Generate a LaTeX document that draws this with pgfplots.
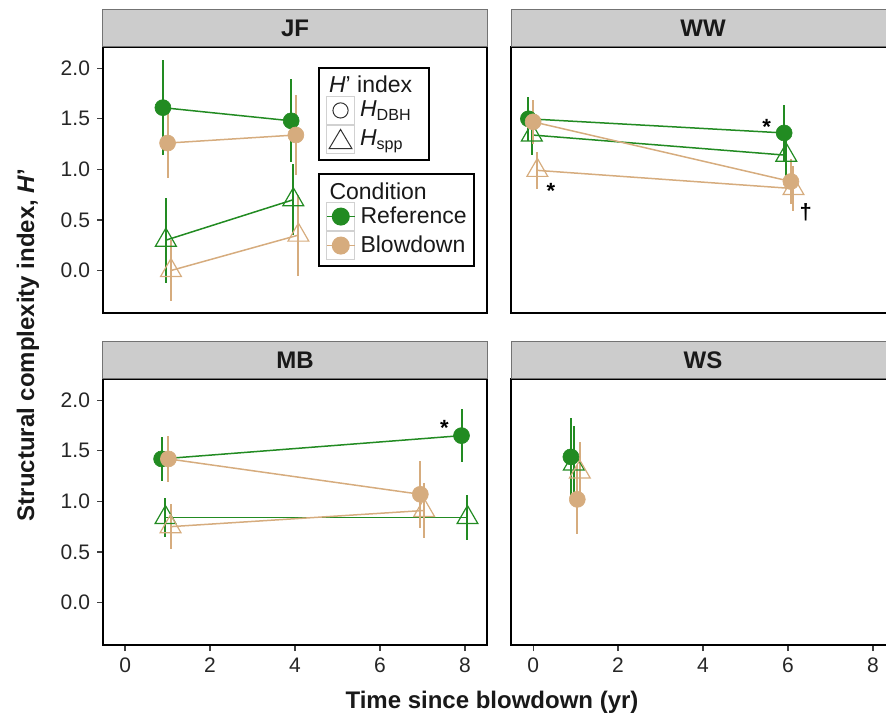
\documentclass[border=0pt]{standalone}
\usepackage{fontspec}
\setmainfont{Liberation Sans}
\usepackage{pgfplots}
\usepackage{pgfplotstable}
\pgfplotsset{compat=1.18}
\definecolor{gr}{RGB}{34,139,34}
\definecolor{tn}{RGB}{214,172,126}
\definecolor{stripgray}{RGB}{204,204,204}

% ---------- data: x, y, error ----------
\pgfplotstableread{
x y e
0.89 1.61 0.47
3.91 1.48 0.41
}\JFrd
\pgfplotstableread{
x y e
1.00 1.26 0.35
4.02 1.34 0.40
}\JFbd
\pgfplotstableread{
x y e
0.96 0.30 0.42
3.96 0.70 0.35
}\JFrs
\pgfplotstableread{
x y e
1.08 0.00 0.30
4.08 0.35 0.40
}\JFbs

\pgfplotstableread{
x y e
-0.11 1.50 0.22
5.91 1.36 0.28
}\WWrd
\pgfplotstableread{
x y e
0.00 1.47 0.22
6.07 0.88 0.22
}\WWbd
\pgfplotstableread{
x y e
-0.03 1.34 0.20
5.96 1.14 0.22
}\WWrs
\pgfplotstableread{
x y e
0.10 0.99 0.18
6.13 0.81 0.22
}\WWbs

\pgfplotstableread{
x y e
0.86 1.42 0.22
7.92 1.65 0.26
}\MBrd
\pgfplotstableread{
x y e
1.02 1.42 0.23
6.95 1.07 0.33
}\MBbd
\pgfplotstableread{
x y e
0.95 0.84 0.19
8.06 0.84 0.22
}\MBrs
\pgfplotstableread{
x y e
1.07 0.75 0.22
7.04 0.91 0.27
}\MBbs

\pgfplotstableread{
x y e
0.89 1.44 0.38
}\WSrd
\pgfplotstableread{
x y e
1.04 1.02 0.34
}\WSbd
\pgfplotstableread{
x y e
0.96 1.37 0.38
}\WSrs
\pgfplotstableread{
x y e
1.10 1.29 0.30
}\WSbs

\pgfplotsset{
  panel/.style={
    anchor=south west, scale only axis, width=192pt, height=133pt,
    xmin=-0.52, xmax=8.52, ymin=-0.42, ymax=2.21,
    axis line style={line width=1.1pt, black},
    tick align=outside, major tick length=3pt,
    tick style={black!75, line width=0.6pt},
    xtick={0,2,4,6,8}, ytick={0,0.5,1,1.5,2},
    xtick pos=lower, ytick pos=lower,
    yticklabel style={/pgf/number format/.cd, fixed, fixed zerofill, precision=1},
    ticklabel style={font=\fontsize{10.5}{12}\selectfont, text=black!85},
    /pgf/number format/assume math mode=true,
    every axis title shift=0pt,
    title style={at={(0.5,1)}, anchor=south, yshift=0pt, minimum width=192pt,
      minimum height=18.5pt, inner sep=0pt, fill=stripgray, draw=black!55,
      line width=0.5pt, font=\bfseries\fontsize{12}{14}\selectfont, text=black!90},
  },
  eb/.style={error bars/y dir=both, error bars/y explicit,
    error bars/error mark=none,
    error bars/error bar style={line width=1pt, #1}},
  refdbh/.style={forget plot, gr, line width=0.75pt, mark=*, mark size=4pt,
    mark options={solid, fill=gr, draw=gr, line width=0.3pt}, eb=gr},
  blowdbh/.style={forget plot, tn, line width=0.75pt, mark=*, mark size=4pt,
    mark options={solid, fill=tn, draw=tn, line width=0.3pt}, eb=tn},
  refspp/.style={forget plot, gr, line width=0.75pt, mark=triangle, mark size=6pt,
    mark options={solid, fill=none, draw=gr, line width=0.6pt}, eb=gr},
  blowspp/.style={forget plot, tn, line width=0.75pt, mark=triangle, mark size=6pt,
    mark options={solid, fill=none, draw=tn, line width=0.6pt}, eb=tn},
  leg/.style={legend cell align=left,
    legend style={at={#1}, anchor=north west, draw=black, line width=1pt,
      fill=white, inner xsep=3.5pt, inner ysep=3pt,
      font=\fontsize{11.5}{13}\selectfont,
      nodes={inner sep=0pt, text=black!90}, row sep=0pt,
      /tikz/every odd column/.append style={column sep=2.5pt}}},
}
\newcommand\lstrut{\rule[-4.5pt]{0pt}{14pt}}

\begin{document}
\begin{tikzpicture}
\path[use as bounding box] (0,0) rectangle (443pt,358pt);

% ---------------- JF ----------------
\begin{axis}[panel, at={(51.5pt,201.5pt)}, title={JF}, xtick=\empty,
  leg={(0.56,0.925)}]
\addlegendimage{empty legend}
\addlegendentry{\hspace{-15.5pt}\textit{H}' index\hspace{5pt}\lstrut}
\addlegendimage{legend image code/.code={
  \draw[black!18, line width=0.5pt, fill=white] (0pt,-7pt) rectangle (14pt,7pt);
  \draw[black!80, line width=0.5pt] (7pt,0pt) circle (3.8pt);}}
\addlegendentry{\textit{H}\textsubscript{DBH}}
\addlegendimage{legend image code/.code={
  \draw[black!18, line width=0.5pt, fill=white] (0pt,-7pt) rectangle (14pt,7pt);
  \draw[black!80, line width=0.5pt] (7pt,5pt) -- (1.3pt,-4.6pt) -- (12.7pt,-4.6pt) -- cycle;}}
\addlegendentry{\textit{H}\textsubscript{spp}}
\addplot[refdbh] table[x=x,y=y,y error=e] {\JFrd};
\addplot[refspp] table[x=x,y=y,y error=e] {\JFrs};
\addplot[blowdbh] table[x=x,y=y,y error=e] {\JFbd};
\addplot[blowspp] table[x=x,y=y,y error=e] {\JFbs};
\end{axis}
% second legend box (Condition)
\begin{axis}[panel, at={(51.5pt,201.5pt)}, hide axis, leg={(0.56,0.526)}]
\addlegendimage{empty legend}
\addlegendentry{\hspace{-15.5pt}Condition\lstrut}
\addlegendimage{legend image code/.code={
  \draw[black!18, line width=0.5pt, fill=white] (0pt,-7pt) rectangle (14pt,7pt);
  \draw[gr, line width=0.75pt] (0pt,0pt) -- (14pt,0pt);
  \fill[gr] (7pt,0pt) circle (4pt);}}
\addlegendentry{Reference\hspace{3pt}}
\addlegendimage{legend image code/.code={
  \draw[black!18, line width=0.5pt, fill=white] (0pt,-7pt) rectangle (14pt,7pt);
  \draw[tn, line width=0.75pt] (0pt,0pt) -- (14pt,0pt);
  \fill[tn] (7pt,0pt) circle (4pt);}}
\addlegendentry{Blowdown}
\end{axis}

% ---------------- WW ----------------
\begin{axis}[panel, at={(255.5pt,201.5pt)}, title={WW}, xtick=\empty, ytick=\empty]
\addplot[refdbh] table[x=x,y=y,y error=e] {\WWrd};
\addplot[refspp] table[x=x,y=y,y error=e] {\WWrs};
\addplot[blowdbh] table[x=x,y=y,y error=e] {\WWbd};
\addplot[blowspp] table[x=x,y=y,y error=e] {\WWbs};
\node[font=\bfseries\fontsize{11}{12}\selectfont] at (axis cs:5.5,1.42) {*};
\node[font=\bfseries\fontsize{11}{12}\selectfont] at (axis cs:0.42,0.79) {*};
\node[font=\bfseries\fontsize{11}{12}\selectfont] at (axis cs:6.42,0.58) {†};
\end{axis}

% ---------------- MB ----------------
\begin{axis}[panel, at={(51.5pt,35.5pt)}, title={MB}]
\addplot[refdbh] table[x=x,y=y,y error=e] {\MBrd};
\addplot[refspp] table[x=x,y=y,y error=e] {\MBrs};
\addplot[blowdbh] table[x=x,y=y,y error=e] {\MBbd};
\addplot[blowspp] table[x=x,y=y,y error=e] {\MBbs};
\node[font=\bfseries\fontsize{11}{12}\selectfont] at (axis cs:7.52,1.73) {*};
\end{axis}

% ---------------- WS ----------------
\begin{axis}[panel, at={(255.5pt,35.5pt)}, title={WS}, ytick=\empty]
\addplot[refdbh] table[x=x,y=y,y error=e] {\WSrd};
\addplot[refspp] table[x=x,y=y,y error=e] {\WSrs};
\addplot[blowdbh] table[x=x,y=y,y error=e] {\WSbd};
\addplot[blowspp] table[x=x,y=y,y error=e] {\WSbs};
\end{axis}

% axis titles
\node[font=\bfseries\fontsize{12}{14}\selectfont, text=black!90, rotate=90]
  at (14pt,185.5pt) {Structural complexity index, \textit{H}'};
\node[font=\bfseries\fontsize{12}{14}\selectfont, text=black!90]
  at (246pt,7pt) {Time since blowdown (yr)};
\end{tikzpicture}
\end{document}
